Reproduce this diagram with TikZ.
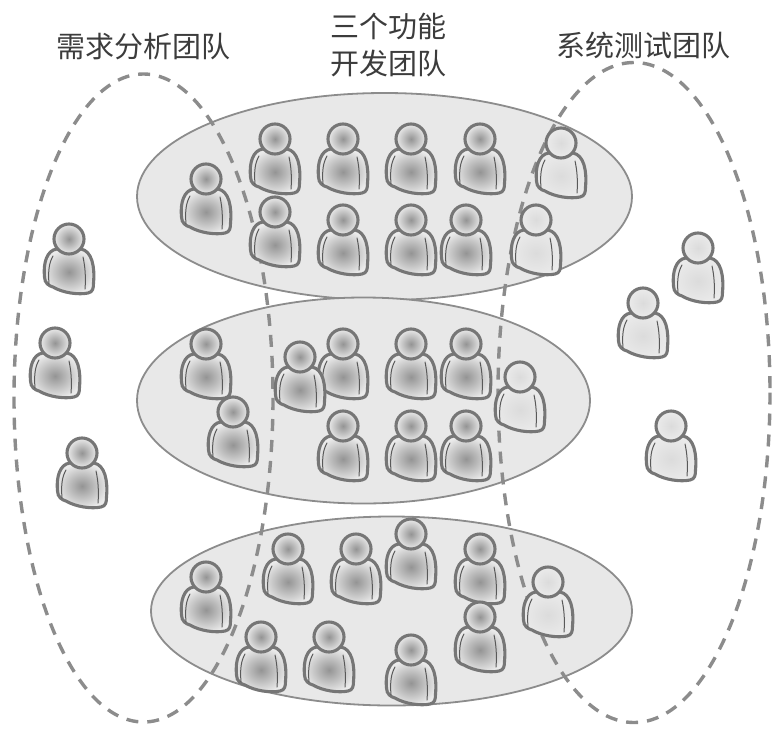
\documentclass[tikz,border=0pt]{standalone}
\usepackage{fontspec}
\newfontfamily\cjkfont{Noto Sans CJK SC}
\definecolor{outlinegray}{RGB}{118,118,118}
\definecolor{teamedge}{RGB}{140,140,140}
\definecolor{teamgray}{RGB}{232,232,232}
\definecolor{dashgray}{RGB}{140,140,140}
\definecolor{labelgray}{RGB}{60,60,60}
\colorlet{darkfill}{black!42}
\colorlet{lightfill}{black!14}
\colorlet{rimfill}{black!8}
\tikzset{
  personline/.style={outlinegray,line width=3.1pt},
  foldline/.style={black!65,line width=1pt},
  teamshape/.style={draw=teamedge,fill=teamgray,line width=1.8pt},
  groupshape/.style={dashgray,line width=3.4pt,line cap=butt,dash pattern=on 12pt off 9pt},
  teamlabel/.style={labelgray,font=\cjkfont\fontsize{29}{37}\selectfont,align=center},
  person/.pic={
    \draw[personline,shading=radial,inner color=#1,outer color=rimfill]
      (-12,10) .. controls (-22,11) and (-26,24) .. (-24.5,38)
      .. controls (-24.5,44) and (-20,47) .. (-16,48)
      .. controls (-6,54) and (10,56) .. (19,54)
      .. controls (24,53) and (24.5,49) .. (24.5,44)
      .. controls (26,28) and (23,12) .. (12,10) -- cycle;
    \draw[foldline] (-16,17) .. controls (-20,24) and (-21,32) .. (-20,45);
    \draw[foldline] (14,18) .. controls (16,27) and (17,38) .. (16,50);
    \draw[personline,shading=radial,inner color=#1,outer color=rimfill]
      (0,0) circle (15);
  }
}

\begin{document}
\begin{tikzpicture}[x=1pt,y=-1pt,line cap=round,line join=round]
        \useasboundingbox (0,0) rectangle (776,739);

        % Tres equipos de funciones
        \draw[teamshape] (384.5,196.5) ellipse [x radius=247.5,y radius=103.5];
        \draw[teamshape] (363.5,400.5) ellipse [x radius=226.5,y radius=103];
        \draw[teamshape] (391.5,611) ellipse [x radius=240.5,y radius=94.5];

        % Grupos transversales
        \draw[groupshape] (143.5,398) ellipse [x radius=129.5,y radius=324];
        \draw[groupshape] (634,392.5) ellipse [x radius=136,y radius=330];

        % Rotulos
        \node[teamlabel] (analysislabel) at (143,47) {需求分析团队};
        \node[teamlabel] (devlabel) at (388,45) {三个功能\\开发团队};
        \node[teamlabel] (testlabel) at (643,45) {系统测试团队};

        % Equipo superior
        \pic at (206,179) {person=darkfill};
        \pic at (275,139) {person=darkfill};
        \pic at (343,139) {person=darkfill};
        \pic at (411,139) {person=darkfill};
        \pic at (480,139) {person=darkfill};
        \pic at (275,212) {person=darkfill};
        \pic at (343,220) {person=darkfill};
        \pic at (411,220) {person=darkfill};
        \pic at (466,220) {person=darkfill};
        \pic at (561,143) {person=lightfill};
        \pic at (536,220) {person=lightfill};

        % Equipo central
        \pic at (206,344) {person=darkfill};
        \pic at (343,344) {person=darkfill};
        \pic at (300,357) {person=darkfill};
        \pic at (411,344) {person=darkfill};
        \pic at (466,344) {person=darkfill};
        \pic at (233,412) {person=darkfill};
        \pic at (343,426) {person=darkfill};
        \pic at (411,426) {person=darkfill};
        \pic at (466,426) {person=darkfill};
        \pic at (520,377) {person=lightfill};

        % Equipo inferior
        \pic at (206,577) {person=darkfill};
        \pic at (288,549) {person=darkfill};
        \pic at (356,549) {person=darkfill};
        \pic at (411,534) {person=darkfill};
        \pic at (480,549) {person=darkfill};
        \pic at (261,637) {person=darkfill};
        \pic at (329,637) {person=darkfill};
        \pic at (411,650) {person=darkfill};
        \pic at (480,617) {person=darkfill};
        \pic at (548,582) {person=lightfill};

        % Analistas fuera de los equipos
        \pic at (69,239) {person=darkfill};
        \pic at (55,343) {person=darkfill};
        \pic at (82,453) {person=darkfill};

        % Probadores fuera de los equipos
        \pic at (698,248) {person=lightfill};
        \pic at (643,303) {person=lightfill};
        \pic at (671,426) {person=lightfill};
    \end{tikzpicture}
\end{document}
